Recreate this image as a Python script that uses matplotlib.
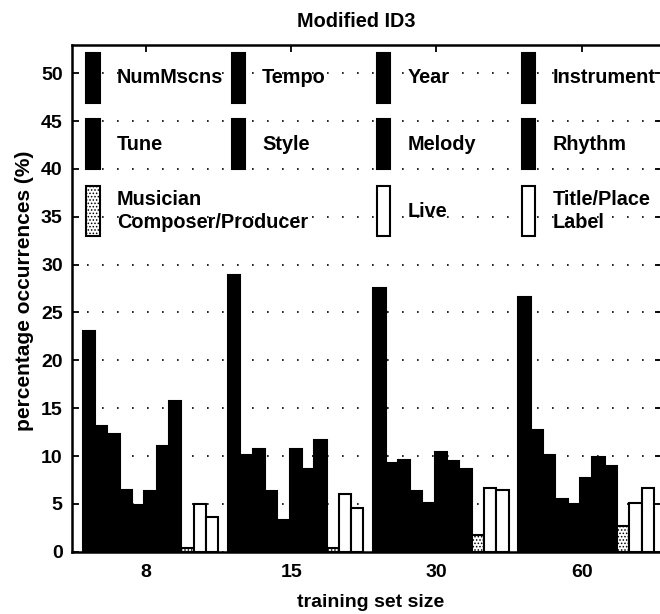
import matplotlib
matplotlib.use("Agg")
import matplotlib.pyplot as plt
from matplotlib.patches import Rectangle

plt.rcParams['font.family'] = ['Liberation Sans', 'DejaVu Sans']
plt.rcParams['font.weight'] = 'bold'
plt.rcParams['hatch.linewidth'] = 0.7

# training set sizes (x categories)
sizes = ['8', '15', '30', '60']

# attribute names, in bar order within each group
features = ['NumMscns', 'Tempo', 'Year', 'Instrument',
            'Tune', 'Style', 'Melody', 'Rhythm',
            'Musician\nComposer/Producer', 'Live', 'Title/Place\nLabel']

# percentage occurrences for each training set size
occ_8 = [23.1, 13.1, 12.3, 6.4, 4.9, 6.3, 11.0, 15.7, 0.35, 5.0, 3.6]
occ_15 = [28.9, 10.1, 10.7, 6.3, 3.3, 10.7, 8.6, 11.7, 0.35, 6.0, 4.6]
occ_30 = [27.6, 9.3, 9.6, 6.3, 5.1, 10.4, 9.5, 8.6, 1.7, 6.7, 6.4]
occ_60 = [26.6, 12.7, 10.1, 5.5, 5.0, 7.7, 9.9, 9.0, 2.7, 5.1, 6.7]
occurrences = [occ_8, occ_15, occ_30, occ_60]

# fill style per attribute: solid, stippled, or open
styles = ['solid'] * 8 + ['stipple', 'open', 'open']

W, H = 660, 614
fig = plt.figure(figsize=(W / 100, H / 100), dpi=100)
left_px, right_px, top_px, bottom_px = 71.7, 662.0, 45.0, 551.7
ax = fig.add_axes([left_px / W, 1 - bottom_px / H,
                   (right_px - left_px) / W, (bottom_px - top_px) / H])

bar_w = 0.0848
start = -0.435


def style_kwargs(style):
    if style == 'solid':
        return dict(facecolor='black', edgecolor='black')
    if style == 'stipple':
        return dict(facecolor='white', edgecolor='black', hatch='.....')
    return dict(facecolor='white', edgecolor='black')


for i, (name, style) in enumerate(zip(features, styles)):
    xs = [g + 1 + start + (i + 0.5) * bar_w for g in range(len(sizes))]
    hs = [occ[i] for occ in occurrences]
    ax.bar(xs, hs, width=bar_w, linewidth=1.5, zorder=2, **style_kwargs(style))

# key drawn inside the axes, laid out on a 4-column grid
key_slots = [(0, 0), (0, 1), (0, 2), (0, 3),
             (1, 0), (1, 1), (1, 2), (1, 3),
             (2, 0), (2, 2), (2, 3)]
row_bottom = [46.9, 40.0, 33.0]
patch_h = 5.2
for name, style, (r, c) in zip(features, styles, key_slots):
    x0 = c + 1 - 0.41
    y0 = row_bottom[r]
    ax.add_patch(Rectangle((x0, y0), 0.09, patch_h, linewidth=1.5, zorder=3,
                           **style_kwargs(style)))
    ax.text(c + 1 - 0.20, y0 + patch_h / 2, name, ha='left', va='center',
            fontsize=14.3, linespacing=1.25, zorder=4)

ax.set_xlim(1 - (146 - left_px) / 145.2, 1 + (right_px - 146) / 145.2)
ax.set_ylim(0, (bottom_px - top_px) / 9.57)
ax.set_xticks(range(1, len(sizes) + 1))
ax.set_xticklabels(sizes)
ax.set_yticks(range(0, 51, 5))

ax.yaxis.grid(True, linestyle=(0, (1, 8)), linewidth=1.2, color='black')
ax.set_axisbelow(True)
ax.tick_params(direction='in', length=5, width=1.3, top=True, right=True,
               labelsize=14)
ax.tick_params(axis='x', pad=9)
ax.tick_params(axis='y', pad=6.5)
for sp in ax.spines.values():
    sp.set_linewidth(1.8)

fig.text(356 / W, 1 - 27 / H, 'Modified ID3', ha='center', va='baseline',
         fontsize=14.3)
fig.text(371 / W, 1 - 607 / H, 'training set size', ha='center',
         va='baseline', fontsize=14)
fig.text(25 / W, 1 - 291 / H, 'percentage occurrences (%)', ha='center',
         va='center', rotation=90, fontsize=15)

fig.savefig('out.png', dpi=100)
